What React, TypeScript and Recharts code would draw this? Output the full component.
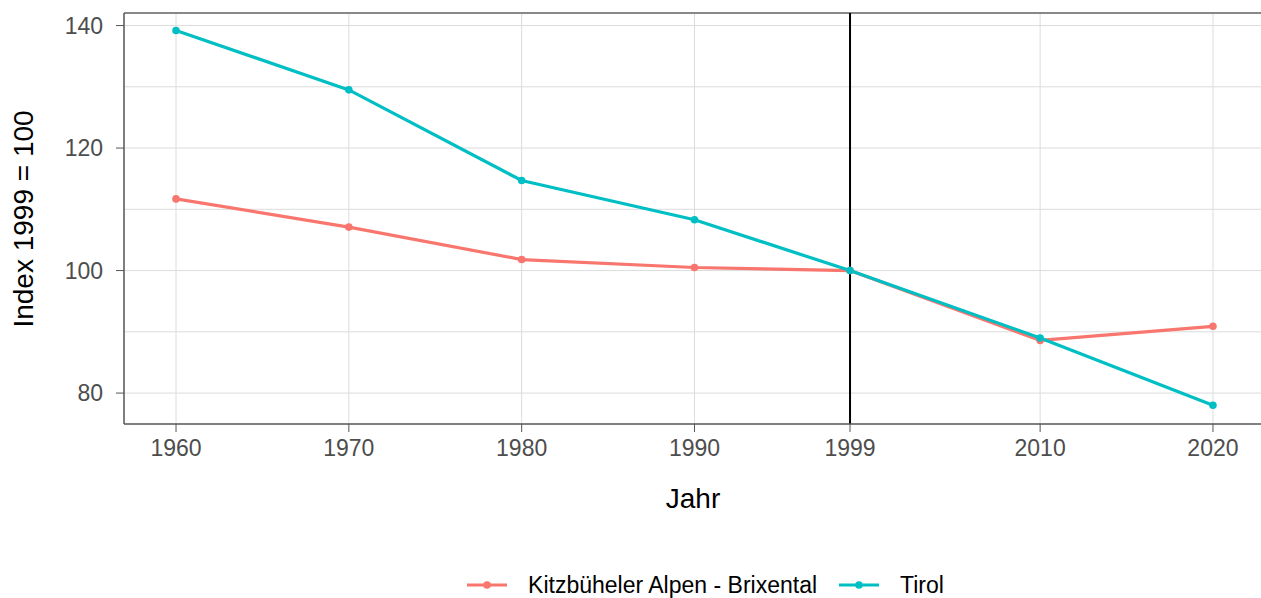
import { CartesianGrid, Legend, Line, LineChart, ReferenceLine, XAxis, YAxis } from "recharts";

const years = [1960, 1970, 1980, 1990, 1999, 2010, 2020];
const kitzbuehel = [111.7, 107.1, 101.8, 100.5, 100, 88.6, 90.9];
const tirol = [139.2, 129.5, 114.7, 108.3, 100, 89.0, 78.0];
const yTicks = [80, 100, 120, 140];
const yGrid = [80, 90, 100, 110, 120, 130, 140];

const RED = "#F8766D";
const CYAN = "#00BFC4";
const FONT = "'Liberation Sans', Arial, sans-serif";

const data = years.map((year, i) => ({
  year,
  kitz: kitzbuehel[i],
  tirol: tirol[i],
}));

const series = [
  { key: "kitz", name: "Kitzbüheler Alpen - Brixental", color: RED },
  { key: "tirol", name: "Tirol", color: CYAN },
];

function LegendBox() {
  return (
    <div
      style={{
        height: 26,
        display: "flex",
        justifyContent: "center",
        alignItems: "center",
        paddingLeft: 150,
        fontFamily: FONT,
        fontSize: 23,
        color: "#000",
      }}
    >
      {series.map((s, i) => (
        <div
          key={s.key}
          style={{ display: "flex", alignItems: "center", marginLeft: i ? 22 : 0 }}
        >
          <svg width={40} height={10} style={{ marginRight: 21 }}>
            <line x1={0} y1={5} x2={40} y2={5} stroke={s.color} strokeWidth={3.2} />
            <circle cx={20} cy={5} r={3.8} fill={s.color} />
          </svg>
          <span>{s.name}</span>
        </div>
      ))}
    </div>
  );
}

export default function App() {
  const tickStyle = { fill: "#4d4d4d", fontSize: 23, fontFamily: FONT };
  return (
    <div style={{ position: "absolute", left: 0, top: 0, background: "#fff" }}>
      <LineChart
        width={1261}
        height={598}
        data={data}
        margin={{ top: 13, right: 0, bottom: 0, left: 0 }}
      >
        <CartesianGrid
          stroke="#dcdcdc"
          strokeWidth={1}
          horizontalValues={yGrid}
          verticalValues={years}
        />
        <XAxis
          dataKey="year"
          type="number"
          domain={[1956.99, 2022.78]}
          ticks={years}
          interval={0}
          height={148}
          tick={tickStyle}
          tickSize={8}
          tickMargin={8}
          stroke="#555"
          tickLine={{ stroke: "#555" }}
          axisLine={{ stroke: "#555", strokeWidth: 1.5 }}
          allowDataOverflow
          label={{
            content: () => (
              <text
                x={693}
                y={508}
                textAnchor="middle"
                fontFamily={FONT}
                fontSize={28}
                fill="#000"
              >
                Jahr
              </text>
            ),
          }}
        />
        <YAxis
          type="number"
          domain={[74.95, 142.05]}
          ticks={yTicks}
          width={124}
          tick={tickStyle}
          tickSize={8}
          tickMargin={13}
          tickLine={{ stroke: "#555" }}
          axisLine={{ stroke: "#555", strokeWidth: 1.5 }}
          allowDataOverflow
          label={{
            content: () => (
              <text
                x={33}
                y={219}
                textAnchor="middle"
                transform="rotate(-90 33 219)"
                fontFamily={FONT}
                fontSize={28}
                fill="#000"
              >
                Index 1999 = 100
              </text>
            ),
          }}
        />
        <ReferenceLine y={142.05} stroke="#888" strokeWidth={2} />
        <ReferenceLine x={1999} stroke="#000" strokeWidth={2} />
        {series.map((s) => (
          <Line
            key={s.key}
            dataKey={s.key}
            name={s.name}
            type="linear"
            stroke={s.color}
            strokeWidth={3.2}
            dot={{ r: 3.8, fill: s.color, stroke: s.color, strokeWidth: 0 }}
            activeDot={false}
            isAnimationActive={false}
          />
        ))}
        <Legend verticalAlign="bottom" content={() => <LegendBox />} />
      </LineChart>
    </div>
  );
}
